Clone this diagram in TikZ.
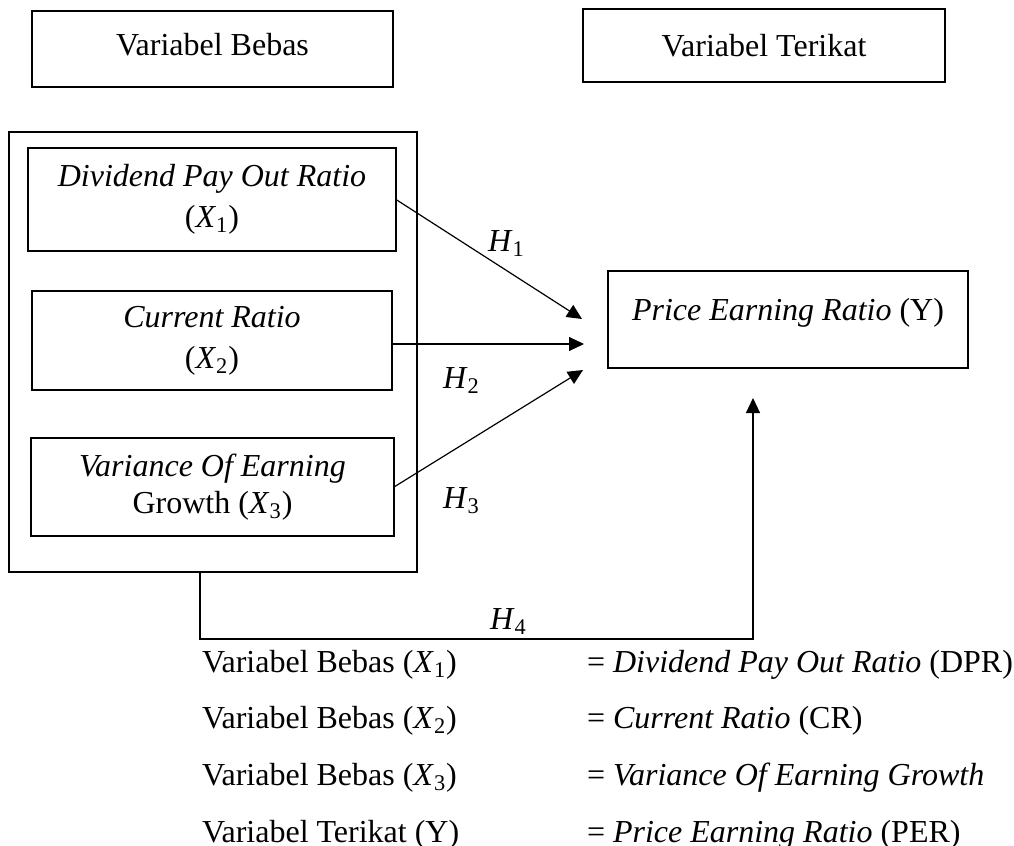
\documentclass[tikz,border=0pt]{standalone}
\usepackage{fontspec}
\setmainfont{Liberation Serif}
\usetikzlibrary{arrows.meta}
\newcommand\vsub[1]{\textsubscript{#1}}
\begin{document}
\begin{tikzpicture}[x=0.5pt,y=-0.5pt,
  every node/.style={inner sep=0pt,outer sep=0pt,font=\fontsize{16}{20.5}\selectfont},
  thickbox/.style={draw,line width=1pt,align=center},
  thinbox/.style={draw,line width=0.6pt},
  conn/.style={line width=0.6pt,-{Triangle[length=7.5pt,width=7pt]}},
  lbl/.style={anchor=base west}]
\useasboundingbox (0,0) rectangle (1014,846);
% headers
\node[thickbox,minimum width=180.5pt,minimum height=38pt] (hb) at (212.5,49) {\raisebox{4.5pt}{Variabel Bebas}};
\node[thickbox,minimum width=181pt,minimum height=36.5pt] (ht) at (764,45.5) {Variabel Terikat};
% outer box
\node[thinbox,minimum width=204pt,minimum height=220pt] (outer) at (213,352) {};
% inner boxes
\node[thickbox,minimum width=184pt,minimum height=51.5pt] (b1) at (212,199.5) {\textit{Dividend Pay Out Ratio}\\(\textit{X}\vsub{1})};
\node[thickbox,minimum width=180pt,minimum height=49.5pt] (b2) at (212,340.5) {\textit{Current Ratio}\\(\textit{X}\vsub{2})};
\node[thickbox,minimum width=181.5pt,minimum height=49pt,font=\fontsize{16}{18.5}\selectfont] (b3) at (212.5,487) {\textit{Variance Of Earning}\\Growth (\textit{X}\vsub{3})};
% dependent
\node[thickbox,minimum width=180pt,minimum height=48.5pt] (per) at (788,319.5) {\raisebox{10pt}{\textit{Price Earning Ratio} (Y)}};
% arrow ends
\coordinate (t1) at (582,319);
\coordinate (t2) at (584,344);
\coordinate (t3) at (583,370);
\coordinate (t4) at (753,398);
\coordinate (c4) at (200,639);
\draw[conn] (b1.east) -- (t1);
\draw[conn] (b2.east |- t2) -- (t2);
\draw[conn] (b3.east) -- (t3);
\draw[conn] (outer.south -| c4) -- (c4) -| (t4);
% hypothesis labels
\node[lbl] (h1) at (488,251) {\textit{H}\vsub{1}};
\node[lbl] (h2) at (443,388) {\textit{H}\vsub{2}};
\node[lbl] (h3) at (443,508) {\textit{H}\vsub{3}};
\node[lbl] (h4) at (490,629) {\textit{H}\vsub{4}};
% legend
\node[lbl] (l1) at (202,672) {Variabel Bebas (\textit{X}\vsub{1})};
\node[lbl] (l2) at (202,728) {Variabel Bebas (\textit{X}\vsub{2})};
\node[lbl] (l3) at (202,785) {Variabel Bebas (\textit{X}\vsub{3})};
\node[lbl] (l4) at (202,842) {Variabel Terikat (Y)};
\node[lbl] (r1) at (587,672) {= \textit{Dividend Pay Out Ratio} (DPR)};
\node[lbl] (r2) at (587,728) {= \textit{Current Ratio} (CR)};
\node[lbl] (r3) at (587,785) {= \textit{Variance Of Earning Growth}};
\node[lbl] (r4) at (587,842) {= \textit{Price Earning Ratio} (PER)};
\end{tikzpicture}
\end{document}
